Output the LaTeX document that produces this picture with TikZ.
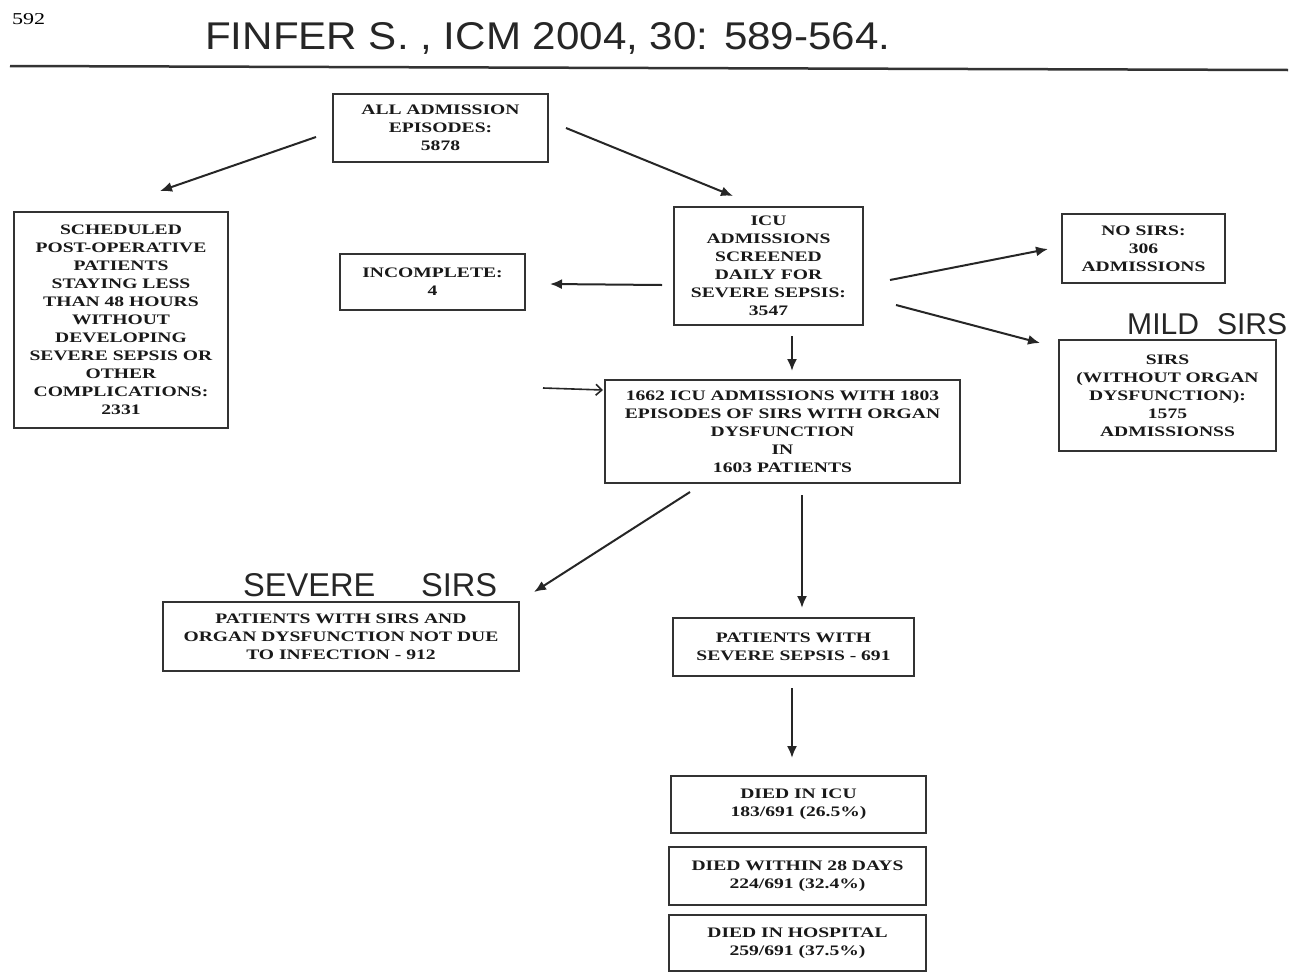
\documentclass[tikz,border=0pt]{standalone}
\usepackage{fontspec}
\usetikzlibrary{arrows.meta}
\setmainfont{Liberation Serif}
\newfontfamily\boxfont[FakeStretch=1.35]{Liberation Serif}
\newfontfamily\handfont{Liberation Sans}
\begin{document}
\begin{tikzpicture}[x=1pt,y=-1pt]
\tikzset{
  box/.style={draw=black!80, line width=1.8pt, align=center, inner sep=0pt,
    font=\boxfont\bfseries\fontsize{14.5}{18}\selectfont, text=black!90},
  arr/.style={line width=2pt, draw=black!85, -{Latex[length=12pt,width=10pt]}},
  openarr/.style={line width=1.6pt, draw=black!85, -{Straight Barb[length=6pt,width=11pt]}},
  hand/.style={inner sep=0pt, anchor=base west, font=\handfont, text=black!85}
}
\useasboundingbox (0,0) rectangle (1290,972);
\fill[white] (0,0) rectangle (1290,972);

% header
\node[inner sep=0pt, anchor=base west] (pg) at (12,24) {\resizebox{33pt}{11pt}{592}};
\node[hand] (ref) at (205,49) {\resizebox{685pt}{27pt}{FINFER S. , ICM 2004, 30: 589-564.}};
\coordinate (ruleL) at (10,66);
\coordinate (ruleR) at (1288,70);
\draw[line width=2.5pt, black!80] (ruleL) -- (ruleR);

% boxes
\node[box, minimum width=215pt, minimum height=68pt] (all) at (440.5,128) {ALL ADMISSION\\EPISODES:\\5878};
\node[box, minimum width=214pt, minimum height=216pt] (sched) at (121,320) {SCHEDULED\\POST-OPERATIVE\\PATIENTS\\STAYING LESS\\THAN 48 HOURS\\WITHOUT\\DEVELOPING\\SEVERE SEPSIS OR\\OTHER\\COMPLICATIONS:\\2331};
\node[box, minimum width=189pt, minimum height=118pt] (icu) at (768.5,266) {ICU\\ADMISSIONS\\SCREENED\\DAILY FOR\\SEVERE SEPSIS:\\3547};
\node[box, minimum width=185pt, minimum height=56pt] (inc) at (432.5,282) {INCOMPLETE:\\4};
\node[box, minimum width=163pt, minimum height=69pt] (nosirs) at (1143.5,248.5) {NO SIRS:\\306\\ADMISSIONS};
\node[box, minimum width=217pt, minimum height=111pt] (sirs) at (1167.5,395.5) {SIRS\\(WITHOUT ORGAN\\DYSFUNCTION):\\1575\\ADMISSIONSS};
\node[box, minimum width=355pt, minimum height=103pt] (organ) at (782.5,431.5) {1662 ICU ADMISSIONS WITH 1803\\EPISODES OF SIRS WITH ORGAN\\DYSFUNCTION\\IN\\1603 PATIENTS};
\node[box, minimum width=356pt, minimum height=69pt] (noninf) at (341,636.5) {PATIENTS WITH SIRS AND\\ORGAN DYSFUNCTION NOT DUE\\TO INFECTION - 912};
\node[box, minimum width=241pt, minimum height=58pt] (sepsis) at (793.5,647) {PATIENTS WITH\\SEVERE SEPSIS - 691};
\node[box, minimum width=255pt, minimum height=57pt] (dicu) at (798.5,804.5) {DIED IN ICU\\183/691 (26.5\%)};
\node[box, minimum width=257pt, minimum height=58pt] (d28) at (797.5,876) {DIED WITHIN 28 DAYS\\224/691 (32.4\%)};
\node[box, minimum width=257pt, minimum height=56pt] (dhosp) at (797.5,943) {DIED IN HOSPITAL\\259/691 (37.5\%)};

% handwritten labels
\node[hand] (mild) at (1127,334) {\resizebox{160pt}{21pt}{MILD\hspace{0.6em}SIRS}};
\node[hand] (sev) at (243,596) {\resizebox{254pt}{23pt}{SEVERE\hspace{1.4em}SIRS}};

% arrow end points
\coordinate (a1s) at (316,137);  \coordinate (a1e) at (160,191);
\coordinate (a2s) at (566,128);  \coordinate (a2e) at (733,196);
\coordinate (a3s) at (662,285);  \coordinate (a3e) at (550,284);
\coordinate (a4s) at (890,280);  \coordinate (a4e) at (1048,249);
\coordinate (a5s) at (896,305);  \coordinate (a5e) at (1040,343);
\coordinate (a6s) at (792,336);  \coordinate (a6e) at (792,371);
\coordinate (a7s) at (543,388);  \coordinate (a7e) at (603,390);
\coordinate (a8s) at (690,492);  \coordinate (a8e) at (534,592);
\coordinate (a9s) at (802,495);  \coordinate (a9e) at (802,608);
\coordinate (a10s) at (792,688); \coordinate (a10e) at (792,758);

\draw[arr] (a1s) -- (a1e);
\draw[arr] (a2s) -- (a2e);
\draw[arr] (a3s) -- (a3e);
\draw[arr] (a4s) -- (a4e);
\draw[arr] (a5s) -- (a5e);
\draw[arr] (a6s) -- (a6e);
\draw[openarr] (a7s) -- (a7e);
\draw[arr] (a8s) -- (a8e);
\draw[arr] (a9s) -- (a9e);
\draw[arr] (a10s) -- (a10e);
\end{tikzpicture}
\end{document}
